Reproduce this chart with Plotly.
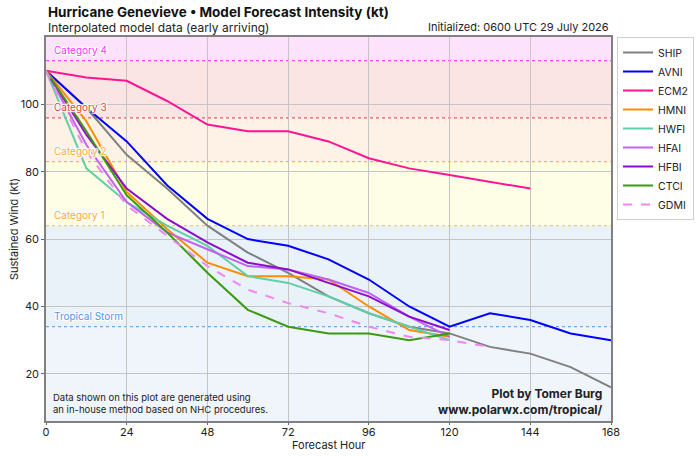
import plotly.graph_objects as go

hours = [0, 12, 24, 36, 48, 60, 72, 84, 96, 108, 120, 132, 144, 156, 168]

ship = [110, 99, 85, 75, 64, 56, 50, 43, 38, 34, 32, 28, 26, 22, 16]
avni = [110, 99, 89, 76, 66, 60, 58, 54, 48, 40, 34, 38, 36, 32, 30]
ecm2 = [110, 108, 107, 101, 94, 92, 92, 89, 84, 81, 79, 77, 75]
hmni = [110, 95, 74, 63, 53, 49, 49, 48, 40, 33, 31]
hwfi = [110, 81, 71, 64, 58, 49, 47, 43, 38, 34, 30]
hfai = [110, 88, 71, 62, 57, 52, 51, 48, 44, 37, 31]
hfbi = [110, 91, 75, 66, 59, 53, 51, 47, 43, 37, 33]
ctci = [110, 92, 73, 62, 50, 39, 34, 32, 32, 30, 32]
gdmi = [110, 86, 70, 61, 52, 45, 41, 38, 34, 31, 30, 28]

models = ["SHIP", "AVNI", "ECM2", "HMNI", "HWFI", "HFAI", "HFBI", "CTCI", "GDMI"]
series = [ship, avni, ecm2, hmni, hwfi, hfai, hfbi, ctci, gdmi]
colors = ["#808080", "#0000ff", "#ff1493", "#ff8c00", "#5fcfa6",
          "#c062f2", "#8c0ccc", "#3b9a12", "#ee88ee"]
dashes = ["solid"] * 8 + ["dash"]

cat_names = ["Category 4", "Category 3", "Category 2", "Category 1", "Tropical Storm"]
cat_thresh = [113, 96, 83, 64, 34]
cat_line_colors = ["#ff44ff", "#f05a5a", "#ffb43c", "#e6e020", "#68aaf0"]
cat_text_colors = ["#ff33ff", "#e83c3c", "#ffaa33", "#ffaa33", "#4a9ae8"]
band_colors = ["#fde2fb", "#fbe4e4", "#fdf2e5", "#fefee7", "#e9f1f9", "#f0f5fb"]

y_min, y_max = 6, 120

FONT = "Inter"

fig = go.Figure()

for name, vals, col, dsh in zip(models, series, colors, dashes):
    fig.add_trace(go.Scatter(
        x=hours[:len(vals)], y=vals, mode="lines", name=name,
        line=dict(color=col, width=2, dash=dsh),
    ))

# background bands
edges = [y_max] + cat_thresh + [y_min]
shapes = []
for i, bc in enumerate(band_colors):
    shapes.append(dict(type="rect", xref="paper", yref="y", x0=0, x1=1,
                       y0=edges[i + 1], y1=edges[i], fillcolor=bc,
                       line=dict(width=0), layer="below"))
for t, lc in zip(cat_thresh, cat_line_colors):
    shapes.append(dict(type="line", xref="paper", yref="y", x0=0, x1=1,
                       y0=t, y1=t, line=dict(color=lc, width=1.3, dash="dot"),
                       layer="between"))

outline = ("white 1px 0px 1px, white -1px 0px 1px, white 0px 1px 1px, "
           "white 0px -1px 1px, white 1px 1px 1px, white -1px -1px 1px, "
           "white 1px -1px 1px, white -1px 1px 1px")

annotations = []
for nm, t, tc in zip(cat_names, cat_thresh, cat_text_colors):
    annotations.append(dict(x=1.8, y=t + 3.2, xref="x", yref="y", text=nm,
                            showarrow=False, xanchor="left", yanchor="middle",
                            font=dict(family=FONT, size=10, color=tc, shadow=outline)))

annotations += [
    dict(x=0, y=1.066, xref="paper", yref="paper", xanchor="left", yanchor="middle",
         text="<b>Hurricane Genevieve • Model Forecast Intensity (kt)</b>", showarrow=False,
         font=dict(family=FONT, size=13.5, color="#111111")),
    dict(x=0, y=1.026, xref="paper", yref="paper", xanchor="left", yanchor="middle",
         text="Interpolated model data (early arriving)", showarrow=False,
         font=dict(family=FONT, size=12, color="#222222")),
    dict(x=1, y=1.026, xref="paper", yref="paper", xanchor="right", yanchor="middle",
         text="Initialized: 0600 UTC 29 July 2026", showarrow=False,
         font=dict(family=FONT, size=11, color="#222222")),
    dict(x=0.008, y=0.01, xref="paper", yref="paper", xanchor="left", yanchor="bottom",
         align="left", showarrow=False,
         text="Data shown on this plot are generated using<br>an in-house method based on NHC procedures.",
         font=dict(family=FONT, size=9.5, color="#222222")),
    dict(x=0.99, y=0.006, xref="paper", yref="paper", xanchor="right", yanchor="bottom",
         align="right", showarrow=False,
         text="<b>Plot by Tomer Burg</b><br><b>www.polarwx.com/tropical/</b>",
         font=dict(family=FONT, size=12, color="#222222")),
    # axis titles
    dict(x=0.5, y=-0.062, xref="paper", yref="paper", xanchor="center", yanchor="middle",
         text="Forecast Hour", showarrow=False,
         font=dict(family=FONT, size=11, color="#222222")),
    dict(x=-0.0566, y=0.5, xref="paper", yref="paper", xanchor="center", yanchor="middle",
         text="Sustained Wind (kt)", textangle=-90, showarrow=False,
         font=dict(family=FONT, size=11, color="#222222")),
]

fig.update_layout(
    width=699, height=456,
    margin=dict(l=46, r=88, t=37, b=35),
    paper_bgcolor="white",
    plot_bgcolor="white",
    font=dict(family=FONT, size=11, color="#222222"),
    shapes=shapes,
    annotations=annotations,
    showlegend=True,
    legend=dict(xref="container", yref="container", x=617 / 699, y=1 - 37 / 456,
                xanchor="left", yanchor="top",
                bgcolor="white", bordercolor="#d0d0d0", borderwidth=1,
                itemwidth=30,
                font=dict(family=FONT, size=10.5, color="#222222")),
    xaxis=dict(range=[0, 168], tickmode="array", tickvals=[0, 24, 48, 72, 96, 120, 144, 168],
               showgrid=True, gridcolor="#c4c4c4", gridwidth=1.2,
               showline=True, linecolor="#808080", linewidth=1.5, mirror=True,
               ticks="outside", ticklen=2, tickcolor="#666666",
               ticklabelstandoff=-2,
               zeroline=False, automargin=False),
    yaxis=dict(range=[y_min, y_max], tickmode="array", tickvals=[20, 40, 60, 80, 100],
               showgrid=True, gridcolor="#c4c4c4", gridwidth=1.2,
               showline=True, linecolor="#808080", linewidth=1.5, mirror=True,
               ticks="outside", ticklen=3, tickcolor="#666666",
               zeroline=False, automargin=False),
)

fig.write_html("out.html")
